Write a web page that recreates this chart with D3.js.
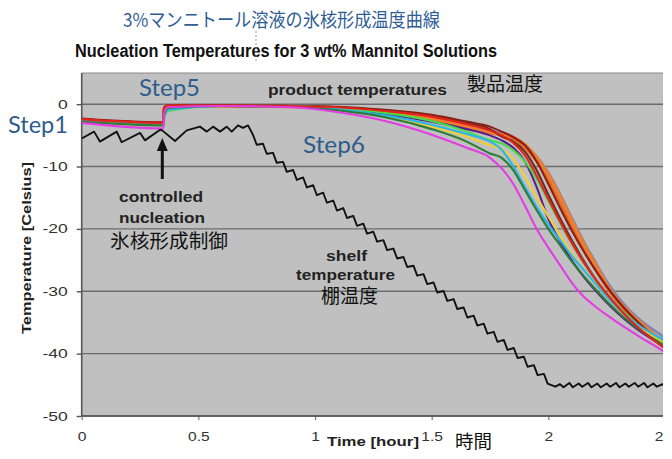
<!DOCTYPE html>
<html><head><meta charset="utf-8">
<script src="https://cdn.jsdelivr.net/npm/d3@7"></script>
<style>
body{margin:0;background:#fff}
svg{display:block;overflow:hidden}
</style>
</head><body>
<svg id="c" width="663" height="459"></svg>
<script>
// ---------- data ----------
const yTicks = [-50, -40, -30, -20, -10, 0];
const xTicks = [0, 0.5, 1, 1.5, 2, 2.5];
const xTickLabels = ["0", "0.5", "1", "1.5", "2", "2.5"];

// product temperature curves (hours, °C)
const productTime = [0, 0.35, 0.353, 0.37, 0.6, 0.9, 1.1, 1.3, 1.5, 1.65, 1.75, 1.8, 1.85, 1.9, 1.95, 2.0, 2.05, 2.1, 2.15, 2.2, 2.25, 2.3, 2.35, 2.4, 2.45, 2.5];
const bluegray  = [-2.5,-3.1,-0.7,-0.3,-0.3,-0.4,-0.6,-1.2,-2.1,-3.3,-4.2,-4.6,-5.4,-6.6,-8.4,-11.0,-14.4,-18.2,-21.9,-25.2,-28.4,-31.0,-33.1,-34.8,-36.2,-37.4];
const orange    = [-2.5,-3.1,-0.7,-0.3,-0.3,-0.4,-0.7,-1.3,-2.3,-3.6,-4.6,-4.9,-5.3,-6.5,-8.5,-11.3,-14.8,-18.6,-22.3,-25.6,-28.9,-31.5,-33.5,-35.2,-36.8,-38.3];
const orange2   = [-2.6,-3.2,-0.8,-0.3,-0.3,-0.4,-0.7,-1.4,-2.4,-3.6,-4.5,-4.9,-5.6,-7.0,-9.2,-12.2,-15.8,-19.6,-23.2,-26.4,-29.4,-31.9,-34.0,-35.8,-37.3,-38.6];
const darkred   = [-2.3,-2.9,-0.5,-0.2,-0.2,-0.3,-0.4,-0.9,-1.7,-2.8,-3.6,-4.4,-5.3,-6.6,-9.2,-12.8,-16.6,-20.2,-23.5,-26.5,-29.2,-31.6,-33.7,-35.5,-37.2,-38.8];
const brown     = [-2.4,-3.0,-0.6,-0.2,-0.2,-0.3,-0.5,-1.0,-1.9,-3.0,-4.0,-5.2,-6.0,-7.6,-10.6,-14.5,-18.3,-21.8,-25.0,-27.9,-30.4,-32.6,-34.5,-36.2,-37.6,-38.9];
const purple    = [-2.6,-3.2,-0.9,-0.3,-0.3,-0.4,-0.8,-1.6,-2.8,-4.0,-5.0,-5.8,-7.0,-9.2,-13.3,-18.4,-22.0,-25.0,-27.6,-29.8,-31.8,-33.6,-35.2,-36.6,-37.8,-38.9];
const green     = [-2.7,-3.3,-2.4,-1.1,-0.3,-0.3,-0.7,-1.4,-2.7,-4.4,-5.8,-6.3,-7.4,-9.2,-12.0,-15.5,-19.0,-22.3,-25.3,-28.0,-30.4,-32.5,-34.3,-35.9,-37.2,-38.3];
const yellow    = [-2.6,-3.2,-1.0,-0.4,-0.3,-0.4,-0.9,-2.0,-3.6,-5.2,-6.6,-7.2,-8.8,-11.7,-14.9,-18.0,-21.0,-23.9,-26.5,-28.8,-30.9,-32.8,-34.5,-36.0,-37.3,-38.5];
const cyan      = [-2.5,-3.1,-2.2,-0.9,-0.3,-0.3,-0.8,-1.8,-3.3,-4.8,-6.0,-7.3,-10.0,-13.3,-16.5,-19.3,-21.8,-24.3,-26.5,-28.7,-30.9,-32.8,-34.4,-35.8,-36.9,-37.8];
const darkgreen = [-2.8,-3.4,-1.8,-0.6,-0.3,-0.4,-1.0,-2.1,-4.0,-6.0,-7.9,-8.6,-10.6,-13.8,-17.0,-20.0,-22.6,-25.2,-27.5,-29.6,-31.6,-33.4,-35.0,-36.4,-37.6,-38.7];
const red       = [-2.4,-3.0,-0.6,-0.2,-0.2,-0.3,-0.5,-1.1,-2.0,-3.2,-4.2,-5.0,-6.2,-8.2,-11.5,-15.2,-18.8,-22.2,-25.3,-28.0,-30.4,-32.6,-34.6,-36.3,-37.8,-39.2];
const magenta   = [-3.0,-3.9,-1.5,-0.5,-0.3,-0.5,-1.3,-2.7,-4.9,-7.0,-8.6,-10.3,-12.8,-16.3,-20.0,-23.0,-25.8,-28.6,-30.8,-32.4,-33.8,-35.1,-36.3,-37.5,-38.6,-39.8];

// shelf temperature (hours, °C)
const shelfTime = [0,0.053,0.078,0.150,0.171,0.250,0.271,0.336,0.345,0.400,0.450,0.507,0.536,0.563,0.593,0.621,0.643,0.670,0.691,0.713,
  0.734,0.750,0.777,0.793,0.820,0.836,0.863,0.879,0.906,0.922,0.949,0.965,0.992,1.008,1.035,1.051,1.078,1.094,1.121,1.137,
  1.164,1.180,1.207,1.223,1.250,1.266,1.293,1.309,1.336,1.352,1.379,1.395,1.422,1.438,1.465,1.481,1.508,1.524,1.551,1.567,
  1.594,1.610,1.637,1.653,1.680,1.696,1.723,1.739,1.766,1.782,1.809,1.825,1.852,1.868,1.895,1.911,1.938,1.954,1.981,1.997,
  2.030,2.050,2.065,2.090,2.105,2.130,2.145,2.170,2.185,2.210,2.225,2.250,2.265,2.290,2.305,2.330,2.345,2.370,2.385,2.410,
  2.425,2.450,2.465,2.490,2.500];
const shelfTemp = [-5.5,-4.4,-6.0,-4.4,-6.1,-4.6,-5.8,-4.1,-4.2,-5.9,-4.2,-3.6,-4.4,-3.6,-4.4,-3.6,-4.4,-3.4,-3.8,-3.4,
  -4.9,-6.5,-6.35,-7.95,-7.8,-9.4,-9.25,-10.85,-10.55,-12.15,-11.75,-13.35,-13.0,-14.6,-14.2,-15.8,-15.45,-17.05,-16.65,-18.25,
  -17.9,-19.5,-19.15,-20.75,-20.45,-22.05,-21.8,-23.4,-23.15,-24.75,-24.5,-26.1,-25.9,-27.5,-27.25,-28.85,-28.6,-30.2,-29.95,-31.55,
  -31.25,-32.85,-32.6,-34.2,-33.9,-35.5,-35.2,-36.8,-36.5,-38.1,-37.8,-39.4,-39.1,-40.7,-40.5,-42.1,-41.85,-43.45,-43.25,-44.8,
  -45.3,-44.9,-45.4,-44.7,-45.4,-44.8,-45.3,-44.7,-45.4,-44.8,-45.4,-44.8,-45.3,-44.7,-45.4,-44.8,-45.3,-44.7,-45.3,-44.7,
  -45.4,-44.8,-45.3,-44.9,-45.2];

const productSeries = [
  {name:"bluegray", values:bluegray}, {name:"orange2", values:orange2}, {name:"orange", values:orange},
  {name:"darkred", values:darkred}, {name:"brown", values:brown}, {name:"purple", values:purple},
  {name:"green", values:green}, {name:"yellow", values:yellow}, {name:"cyan", values:cyan},
  {name:"darkgreen", values:darkgreen}, {name:"red", values:red}, {name:"magenta", values:magenta}
];

// ---------- styles ----------
const lineColor = {bluegray:"#7c87b6", orange2:"#dc6d24", orange:"#f07d2c", darkred:"#8e1c14", brown:"#6b2c1c",
  purple:"#5a1e8c", green:"#46de46", yellow:"#efcf34", cyan:"#2cb6e6", darkgreen:"#2d7d38", red:"#e3221b", magenta:"#e43ce4"};
const lineWidth = {bluegray:2.6, orange2:2.6, orange:3.2};

const svg = d3.select("#c");
const L = 81.7, R = 663, T = 73, B = 416;
const x = d3.scaleLinear().domain([0, 2.5]).range([L, 665]);
const y = d3.scaleLinear().domain([-50, 5]).range([B, T]);

function stretch(sel, k){ sel.each(function(){ const n=this; const w=n.getComputedTextLength(); n.setAttribute("textLength", w*k); n.setAttribute("lengthAdjust","spacingAndGlyphs"); }); }

svg.append("defs").append("clipPath").attr("id","plotclip").append("rect")
  .attr("x", L).attr("y", T).attr("width", R-L).attr("height", B-T);

// plot background
svg.append("rect").attr("x", L).attr("y", T).attr("width", R-L).attr("height", B-T).attr("fill", "#c0c0c0");
svg.append("line").attr("x1", L).attr("x2", R).attr("y1", T).attr("y2", T).attr("stroke", "#8a8a8a").attr("stroke-width", 1.2);

// gridlines
svg.append("g").selectAll("line").data(yTicks).join("line")
  .attr("x1", L).attr("x2", R).attr("y1", d=>y(d)).attr("y2", d=>y(d))
  .attr("stroke", "#6c6c6c").attr("stroke-width", 1.4);

// y axis
const yAxis = svg.append("g").attr("transform", `translate(${L},0)`)
  .call(d3.axisLeft(y).tickValues(yTicks).tickSize(5).tickPadding(9).tickFormat(d=>d));
yAxis.select(".domain").remove();
yAxis.append("line").attr("x1",0).attr("x2",0).attr("y1",T).attr("y2",B).attr("stroke","#555").attr("stroke-width",1.6);
yAxis.selectAll(".tick line").attr("stroke","#555").attr("stroke-width",1.4);
yAxis.selectAll("text").attr("font-family","Liberation Sans, Arial, sans-serif").attr("font-size",12.5).attr("fill","#333").call(stretch,1.4);

// x axis
const xAxis = svg.append("g").attr("transform", `translate(0,${B})`)
  .call(d3.axisBottom(x).tickValues(xTicks).tickSize(4).tickPadding(12).tickFormat((d,i)=>xTickLabels[i]));
xAxis.select(".domain").remove();
xAxis.append("line").attr("x1",L).attr("x2",R).attr("y1",0).attr("y2",0).attr("stroke","#555").attr("stroke-width",1.6);
xAxis.selectAll(".tick line").attr("stroke","#777").attr("stroke-width",1.2);
xAxis.selectAll("text").attr("font-family","Liberation Sans, Arial, sans-serif").attr("font-size",12).attr("fill","#333").call(stretch,1.3);

// lines
const plot = svg.append("g").attr("clip-path","url(#plotclip)");
const prodLine = d3.line().x(d=>x(d[0])).y(d=>y(d[1])).curve(d3.curveMonotoneX);
plot.selectAll("path.prod").data(productSeries).join("path").attr("class","prod")
  .attr("d", s=>prodLine(d3.zip(productTime, s.values)))
  .attr("fill","none").attr("stroke", s=>lineColor[s.name]).attr("stroke-width", s=>lineWidth[s.name]||2.1)
  .attr("stroke-linejoin","round");

const shelfLine = d3.line().x(d=>x(d[0])).y(d=>y(d[1]));
plot.append("path").attr("d", shelfLine(d3.zip(shelfTime, shelfTemp)))
  .attr("fill","none").attr("stroke","#111").attr("stroke-width",1.9).attr("stroke-linejoin","round");

// arrow
svg.append("line").attr("x1",162.3).attr("x2",162.3).attr("y1",179).attr("y2",147).attr("stroke","#111").attr("stroke-width",3);
svg.append("path").attr("d","M156.8,151 L162.3,138 L167.8,151 Z").attr("fill","#111");

// ---------- text ----------
const JP = "Noto Sans CJK JP, sans-serif";
const AR = "Liberation Sans, Arial, sans-serif";
const STEP = "Lato, Open Sans, sans-serif";
function txt(s, px, py, opt){
  const t = svg.append("text").attr("x",px).attr("y",py).text(s)
    .attr("font-family",opt.f||AR).attr("font-size",opt.s||12).attr("fill",opt.c||"#222")
    .attr("font-weight",opt.w||"normal").attr("text-anchor",opt.a||"start");
  if(opt.len){ t.attr("textLength",opt.len).attr("lengthAdjust","spacingAndGlyphs"); }
  return t;
}
// titles
txt("3%マンニトール溶液の氷核形成温度曲線", 123, 27, {f:JP, s:19, c:"#2f5d95", len:317});
txt("Nucleation Temperatures for 3 wt% Mannitol Solutions", 75, 57, {s:17.5, w:"bold", c:"#111", len:422});
svg.append("line").attr("x1",256).attr("x2",256).attr("y1",31).attr("y2",63).attr("stroke","#999").attr("stroke-width",1).attr("stroke-dasharray","2,2");

// step labels
txt("Step1", 8, 133, {f:STEP, s:23, c:"#2e5c8c", len:60});
txt("Step5", 139, 96, {f:STEP, s:23, c:"#2e5c8c", len:61});
txt("Step6", 303, 153, {f:STEP, s:23, c:"#2e5c8c", len:62});

// annotations
txt("product temperatures", 268, 95, {s:14.5, w:"bold", len:179});
txt("製品温度", 467, 91, {f:JP, s:19, c:"#111", len:76});
txt("controlled", 119, 202, {s:14.5, w:"bold", len:84});
txt("nucleation", 119, 223, {s:14.5, w:"bold", len:86});
txt("氷核形成制御", 110, 248, {f:JP, s:19.5, c:"#111", len:118});
txt("shelf", 326, 261, {s:14.5, w:"bold", len:41});
txt("temperature", 296, 280, {s:14.5, w:"bold", len:99});
txt("棚温度", 321, 303, {f:JP, s:19, c:"#111", len:57});

// axis titles
txt("Time [hour]", 327, 446, {s:12, w:"bold", len:92});
txt("時間", 455, 448, {f:JP, s:18.5, c:"#111", len:37});
svg.append("text").attr("transform","translate(31,248) rotate(-90)").attr("text-anchor","middle")
  .attr("font-family",AR).attr("font-size",13).attr("font-weight","bold").attr("fill","#222")
  .attr("textLength",172).attr("lengthAdjust","spacingAndGlyphs").text("Temperature [Celsius]");
</script>
</body></html>
